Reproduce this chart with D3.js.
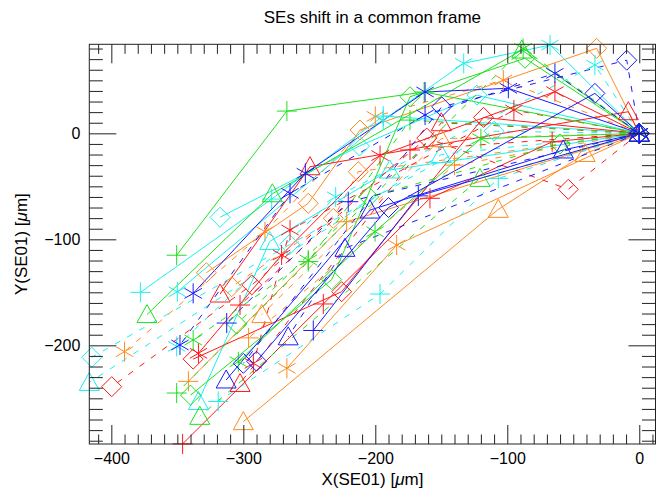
<!DOCTYPE html>
<html>
<head>
<meta charset="utf-8">
<script src="https://cdn.jsdelivr.net/npm/d3@7"></script>
<style>
  html, body { margin: 0; padding: 0; background: #fff; }
  svg { display: block; font-family: "Liberation Sans", Arial, Helvetica, sans-serif; }
</style>
</head>
<body>
<svg id="chart" width="656" height="493"></svg>
<script>
// Axis ticks
const xMajorTicks = [-400, -300, -200, -100, 0];
const yMajorTicks = [-200, -100, 0];
const xMinorTicks = d3.range(-410, 11, 10).filter(v => v % 100 !== 0);
const yMinorTicks = d3.range(-290, 81, 10).filter(v => v % 100 !== 0);

// Series styling
const seriesColors = ["red", "red", "red", "red", "red", "red", "red", "red",
  "green", "green", "green", "green", "green", "green", "green", "green",
  "blue", "blue", "blue", "blue", "blue", "blue", "blue", "blue",
  "cyan", "cyan", "cyan", "cyan", "cyan", "cyan", "cyan", "cyan",
  "orange", "orange", "orange", "orange", "orange", "orange", "orange", "orange"];
const seriesSymbols = ["plus", "plus", "star", "star", "diamond", "diamond", "triangle", "triangle",
  "plus", "plus", "star", "star", "diamond", "triangle", "triangle", "diamond",
  "plus", "plus", "star", "star", "diamond", "diamond", "triangle", "triangle",
  "plus", "plus", "star", "star", "diamond", "triangle", "triangle", "diamond",
  "plus", "plus", "star", "star", "diamond", "diamond", "triangle", "triangle"];
const seriesDashed = [false, true, false, true, true, false, false, true,
  false, true, false, true, false, false, true, true,
  false, true, false, true, true, false, false, true,
  false, true, false, true, false, false, true, true,
  false, true, false, true, false, true, false, true];

// SE positions in the SE01 frame, X and Y in µm
const seriesX = [
  [0, -66, -158.6, -239.4, -346],
  [0, -173.7, -302.5],
  [0, -63.9, -196.4, -271, -334],
  [0, -95, -264.6, -292.4],
  [0, -53.8, -161, -293.6, -399.7],
  [0, -118, -225.5, -338],
  [0, -8.3, -249.5, -317.6],
  [0, -150, -302.5],
  [0, -163, -267, -350.5],
  [0, -173.7, -250.8, -350.5],
  [0, -120, -200.2, -303.8],
  [0, -88, -250.8, -338],
  [0, -86.6, -173.7, -233, -340],
  [0, -89, -278, -373],
  [0, -120.7, -333],
  [0, -60, -205, -305],
  [0, -167.4, -247],
  [0, -220.5, -312.6],
  [0, -99.2, -162.3, -253, -338],
  [0, -63.9, -162.3, -264.6, -348],
  [0, -9.5, -149.7, -300],
  [0, -33.6, -190, -290],
  [0, -57.6, -204, -313],
  [0, -223, -266],
  [0, -194, -278.5, -378],
  [0, -106.8, -196.4, -319],
  [0, -67.6, -133, -194, -350],
  [0, -33.6, -230, -350.5],
  [0, -123, -212, -317.6],
  [0, -189, -280, -334],
  [0, -150, -416.7],
  [0, -110, -265, -414.8],
  [0, -221.7, -341.6],
  [0, -140, -296],
  [0, -183.8, -267],
  [0, -103, -200, -283.6, -390],
  [0, -32.3, -211.6, -250.8, -328],
  [0, -212.9, -231.8, -308.8],
  [0, -41, -106.8, -300],
  [0, -150, -286]
];
const seriesY = [
  [0, -8, -61.3, -161, -293],
  [0, -15.7, -162],
  [0, 39.3, -21, -114.8, -207.5],
  [0, 22, -91.2, -217],
  [0, -52.8, -4.5, -143, -239],
  [0, 15, -149.4, -213],
  [0, 20.4, -31.5, -151.6],
  [0, 10, -236],
  [0, 39, 21, -115],
  [0, 12.5, -121, -245],
  [0, -5, -92.8, -215.5],
  [0, 80, -119.5, -195],
  [0, 70.8, 34.5, -138, -247],
  [0, 78.6, -57, -171],
  [0, -42.5, -267],
  [0, -10, -60, -180],
  [0, -59, -186],
  [0, -64.5, -179],
  [0, 42.5, 39, -37.7, -151],
  [0, 56.6, 17.3, -56.6, -199.7],
  [0, 69, 25, -217],
  [0, 37.7, -70, -215],
  [0, -15.7, -72.4, -232.7],
  [0, -108.5, -192],
  [0, 16.3, -62, -150],
  [0, -42.5, -151.6, -253],
  [0, 83.3, 66, 12.5, -149.5],
  [0, 64.4, -60, -201],
  [0, 36, -12, -79.2],
  [0, -34.6, -102, -253],
  [0, -20, -235],
  [0, 2, -105, -211.3],
  [0, -83.4, -234],
  [0, -30, -193],
  [0, -105.4, -221.7],
  [0, 50.3, 16, -92.8, -206],
  [0, 80.2, 3.1, -66, -131.5],
  [0, -36.2, -80.2, -144.7],
  [0, -19, -71.7, -272],
  [0, -5, -171]
];

// Stacking of the colour groups, first drawn at the bottom
const colorOrder = ["orange", "cyan", "red", "green", "blue"];

const colorMap = {
  red: "#ff1a1a",
  green: "#1ee01e",
  blue: "#1a1aff",
  cyan: "#1af0f0",
  orange: "#ff8a1f"
};

(function draw() {
  const svg = d3.select("#chart");
  const plotL = 89.3, plotR = 655.5, plotT = 44.3, plotB = 444;

  const x = d3.scaleLinear().domain([-416.7, 12.3]).range([plotL, plotR]);
  const y = d3.scaleLinear().domain([-293.1, 84.0]).range([plotB, plotT]);

  // Title
  svg.append("text")
    .attr("x", (plotL + plotR) / 2).attr("y", 23)
    .attr("text-anchor", "middle")
    .attr("font-size", 17)
    .attr("fill", "#000")
    .text("SEs shift in a common frame");

  const order = d3.range(seriesX.length)
    .sort((a, b) => colorOrder.indexOf(seriesColors[a]) - colorOrder.indexOf(seriesColors[b]) || a - b);

  // Data lines
  const line = d3.line().x(d => x(d[0])).y(d => y(d[1]));
  const gLines = svg.append("g");
  order.forEach(i => {
    const pts = seriesX[i].map((v, j) => [v, seriesY[i][j]]);
    gLines.append("path")
      .datum(pts)
      .attr("d", line)
      .attr("fill", "none")
      .attr("stroke", colorMap[seriesColors[i]])
      .attr("stroke-width", 1)
      .attr("stroke-dasharray", seriesDashed[i] ? "6,8" : null);
  });

  // Plot symbols
  function symbolPath(kind) {
    const s = 10;
    if (kind === "plus") return `M${-s},0H${s}M0,${-s}V${s}`;
    if (kind === "star") {
      const a = s * Math.cos(Math.PI / 6), b = s * Math.sin(Math.PI / 6);
      return `M0,${-s}V${s}M${-a},${-b}L${a},${b}M${-a},${b}L${a},${-b}`;
    }
    if (kind === "diamond") return `M0,${-s}L${s},0L0,${s}L${-s},0Z`;
    return `M${-s},${s * 0.8}L0,${-s}L${s},${s * 0.8}Z`;
  }
  const gSym = svg.append("g");
  order.forEach(i => {
    seriesX[i].forEach((v, j) => {
      gSym.append("path")
        .attr("transform", `translate(${x(v)},${y(seriesY[i][j])})`)
        .attr("d", symbolPath(seriesSymbols[i]))
        .attr("fill", "none")
        .attr("stroke", colorMap[seriesColors[i]])
        .attr("stroke-width", 1);
    });
  });

  // Frame and ticks
  const axisColor = "#222";
  function styleAxis(g) {
    g.select(".domain").remove();
    g.selectAll(".tick line").attr("stroke", axisColor);
    g.selectAll("text").attr("fill", "#000").attr("font-size", 16)
      .attr("font-family", "'Liberation Sans', Arial, Helvetica, sans-serif");
  }
  svg.append("rect")
    .attr("x", plotL).attr("y", plotT)
    .attr("width", plotR - plotL).attr("height", plotB - plotT)
    .attr("fill", "none").attr("stroke", axisColor).attr("stroke-width", 1);

  svg.append("g").attr("transform", `translate(0,${plotB})`)
    .call(d3.axisBottom(x).tickValues(xMajorTicks).tickSizeInner(-19).tickSizeOuter(0).tickPadding(8.5))
    .call(styleAxis);
  svg.append("g").attr("transform", `translate(0,${plotB})`)
    .call(d3.axisBottom(x).tickValues(xMinorTicks).tickSizeInner(-9.5).tickSizeOuter(0).tickFormat(""))
    .call(styleAxis);
  svg.append("g").attr("transform", `translate(0,${plotT})`)
    .call(d3.axisTop(x).tickValues(xMajorTicks).tickSizeInner(-19).tickSizeOuter(0).tickFormat(""))
    .call(styleAxis);
  svg.append("g").attr("transform", `translate(0,${plotT})`)
    .call(d3.axisTop(x).tickValues(xMinorTicks).tickSizeInner(-9.5).tickSizeOuter(0).tickFormat(""))
    .call(styleAxis);

  svg.append("g").attr("transform", `translate(${plotL},0)`)
    .call(d3.axisLeft(y).tickValues(yMajorTicks).tickSizeInner(-27).tickSizeOuter(0).tickPadding(9))
    .call(styleAxis);
  svg.append("g").attr("transform", `translate(${plotL},0)`)
    .call(d3.axisLeft(y).tickValues(yMinorTicks).tickSizeInner(-13.5).tickSizeOuter(0).tickFormat(""))
    .call(styleAxis);
  svg.append("g").attr("transform", `translate(${plotR},0)`)
    .call(d3.axisRight(y).tickValues(yMajorTicks).tickSizeInner(-27).tickSizeOuter(0).tickFormat(""))
    .call(styleAxis);
  svg.append("g").attr("transform", `translate(${plotR},0)`)
    .call(d3.axisRight(y).tickValues(yMinorTicks).tickSizeInner(-13.5).tickSizeOuter(0).tickFormat(""))
    .call(styleAxis);

  // Axis titles
  const xTitle = svg.append("text")
    .attr("x", (plotL + plotR) / 2).attr("y", 485)
    .attr("text-anchor", "middle").attr("font-size", 17).attr("fill", "#000");
  xTitle.append("tspan").text("X(SE01) [");
  xTitle.append("tspan").attr("font-style", "italic").text("\u03bc");
  xTitle.append("tspan").text("m]");

  const yTitle = svg.append("text")
    .attr("transform", `translate(27,${(plotT + plotB) / 2}) rotate(-90)`)
    .attr("text-anchor", "middle").attr("font-size", 17).attr("fill", "#000");
  yTitle.append("tspan").text("Y(SE01) [");
  yTitle.append("tspan").attr("font-style", "italic").text("\u03bc");
  yTitle.append("tspan").text("m]");
})();
</script>
</body>
</html>
